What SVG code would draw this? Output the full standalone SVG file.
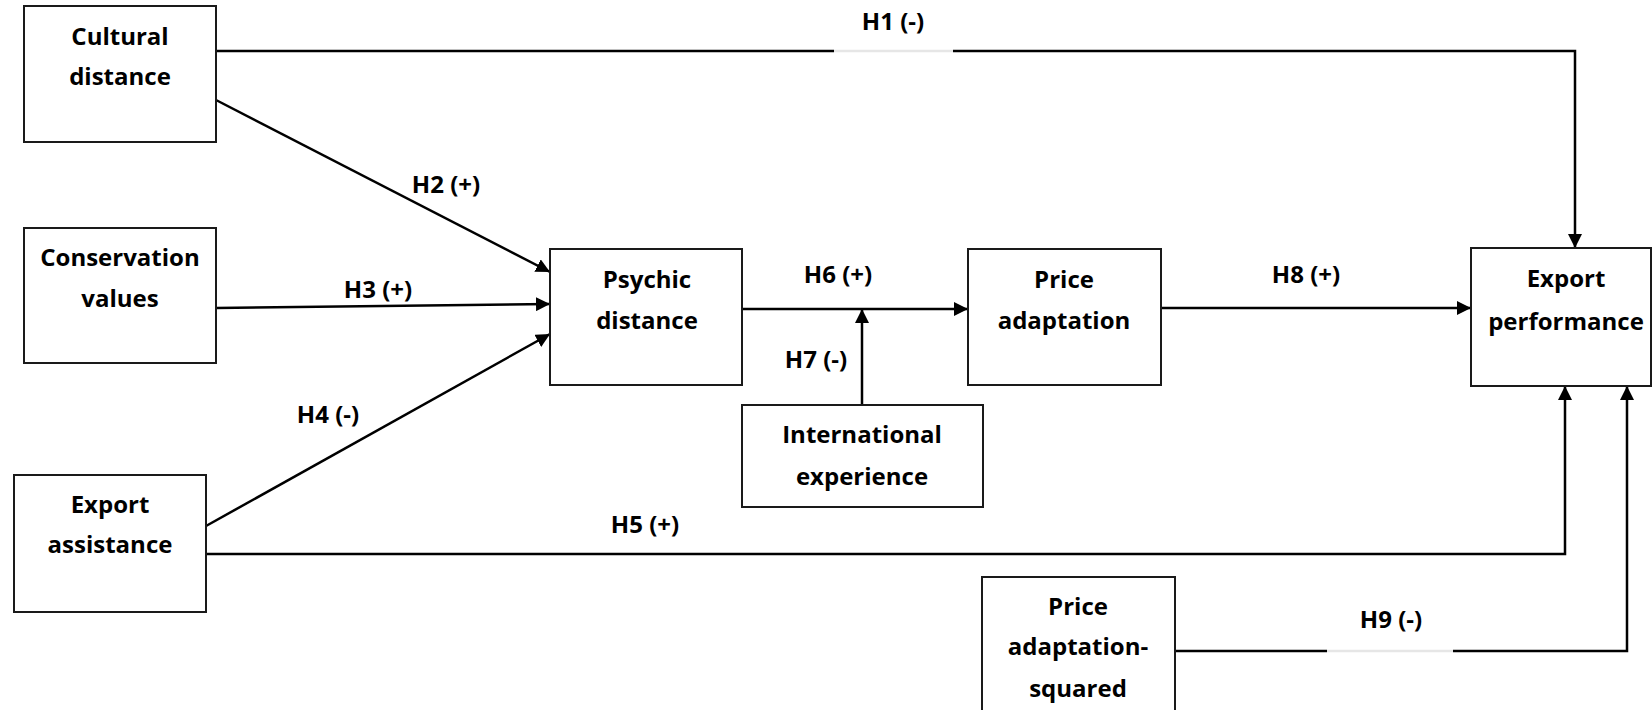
<svg xmlns="http://www.w3.org/2000/svg" width="1652" height="710" viewBox="0 0 1652 710">
<style>
.box{fill:#fff;stroke:#1a1a1a;stroke-width:2}
.t{font-family:"Open Sans","Liberation Sans",sans-serif;font-weight:bold;font-size:24px;fill:#000;text-anchor:middle}
.c{fill:none;stroke:#000;stroke-width:2.5}
.a{marker-end:url(#arr)}
.bg{fill:#fff;fill-opacity:0.9}
</style>
<defs>
<marker id="arr" markerUnits="userSpaceOnUse" markerWidth="15" markerHeight="14" refX="14" refY="7" orient="auto">
<path d="M0,0 L14,7 L0,14 z" fill="#000"/>
</marker>
</defs>
<g id="connectors">
<polyline class="c a" points="216,51 1575,51 1575,248"/>
<line class="c a" x1="216" y1="100" x2="550" y2="272"/>
<line class="c a" x1="216" y1="308" x2="550" y2="304"/>
<line class="c a" x1="206" y1="526" x2="550" y2="334"/>
<polyline class="c a" points="206,554 1565,554 1565,386"/>
<line class="c a" x1="742" y1="309" x2="968" y2="309"/>
<line class="c a" x1="862" y1="405" x2="862" y2="309"/>
<line class="c a" x1="1161" y1="308" x2="1471" y2="308"/>
<polyline class="c a" points="1175,651 1627,651 1627,386"/>
<rect class="bg" x="834" y="48" width="119" height="6"/>
<rect class="bg" x="1327" y="648" width="126" height="6"/>
<text class="t" x="893" y="30">H1 (-)</text>
<text class="t" x="446" y="193">H2 (+)</text>
<text class="t" x="378" y="298">H3 (+)</text>
<text class="t" x="328" y="423">H4 (-)</text>
<text class="t" x="645" y="533">H5 (+)</text>
<text class="t" x="838" y="283">H6 (+)</text>
<text class="t" x="816" y="368">H7 (-)</text>
<text class="t" x="1306" y="283">H8 (+)</text>
<text class="t" x="1391" y="628">H9 (-)</text>
</g>
<g id="cultural-distance">
<rect class="box" x="24" y="6" width="192" height="136"/>
<text class="t" x="120" y="45">Cultural</text>
<text class="t" x="120" y="85">distance</text>
</g>
<g id="conservation-values">
<rect class="box" x="24" y="228" width="192" height="135"/>
<text class="t" x="120" y="266">Conservation</text>
<text class="t" x="120" y="307">values</text>
</g>
<g id="export-assistance">
<rect class="box" x="14" y="475" width="192" height="137"/>
<text class="t" x="110" y="513">Export</text>
<text class="t" x="110" y="553">assistance</text>
</g>
<g id="psychic-distance">
<rect class="box" x="550" y="249" width="192" height="136"/>
<text class="t" x="647" y="288">Psychic</text>
<text class="t" x="647" y="329">distance</text>
</g>
<g id="international-experience">
<rect class="box" x="742" y="405" width="241" height="102"/>
<text class="t" x="862" y="443">International</text>
<text class="t" x="862" y="485">experience</text>
</g>
<g id="price-adaptation">
<rect class="box" x="968" y="249" width="193" height="136"/>
<text class="t" x="1064" y="288">Price</text>
<text class="t" x="1064" y="329">adaptation</text>
</g>
<g id="export-performance">
<rect class="box" x="1471" y="248" width="180" height="138"/>
<text class="t" x="1566" y="287">Export</text>
<text class="t" x="1566" y="330">performance</text>
</g>
<g id="price-adaptation-squared">
<rect class="box" x="982" y="577" width="193" height="140"/>
<text class="t" x="1078" y="615">Price</text>
<text class="t" x="1078" y="655">adaptation-</text>
<text class="t" x="1078" y="697">squared</text>
</g>
</svg>
